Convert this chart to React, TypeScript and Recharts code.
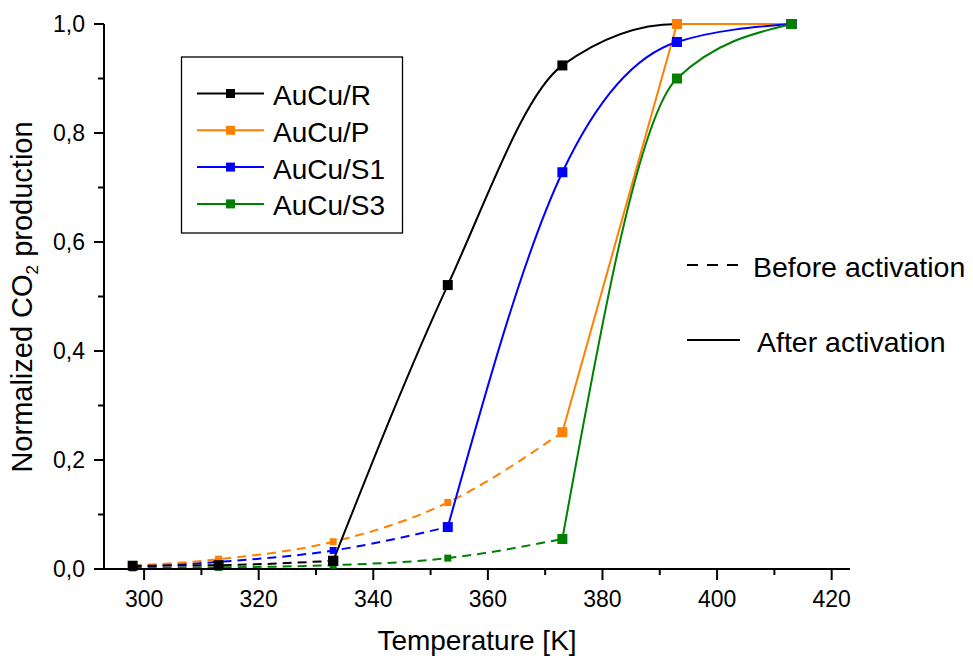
import { Line, LineChart, XAxis, YAxis } from "recharts";

// temperatures [K] where samples were taken
const temps = [298, 313, 333, 353, 373, 393, 413];

// normalized CO2 production, dashed = before activation, solid = after
const rBefore = [0.006, 0.007, 0.015, null, null, null, null];
const rAfter = [null, null, 0.015, 0.521, 0.924, 1.0, 1.0];
const pBefore = [0.006, 0.018, 0.05, 0.122, 0.251, null, null];
const pAfter = [null, null, null, null, 0.251, 1.0, 1.0];
const s1Before = [0.004, 0.013, 0.034, 0.077, null, null, null];
const s1After = [null, null, null, 0.077, 0.728, 0.967, 1.0];
const s3Before = [0.002, 0.003, 0.007, 0.02, 0.055, null, null];
const s3After = [null, null, null, null, 0.055, 0.9, 1.0];

const xTicks = [300, 310, 320, 330, 340, 350, 360, 370, 380, 390, 400, 410, 420];
const yTicks = [0, 0.1, 0.2, 0.3, 0.4, 0.5, 0.6, 0.7, 0.8, 0.9, 1.0];

const series = [
  { key: "R", name: "AuCu/R", color: "#000000", before: rBefore, after: rAfter, bSize: 10, curve: "monotone" },
  { key: "P", name: "AuCu/P", color: "#ff8000", before: pBefore, after: pAfter, bSize: 7, curve: "linear" },
  { key: "S1", name: "AuCu/S1", color: "#0000ff", before: s1Before, after: s1After, bSize: 7, curve: "monotone" },
  { key: "S3", name: "AuCu/S3", color: "#008000", before: s3Before, after: s3After, bSize: 7, curve: "monotone" },
];

const data = temps.map((T, i) => {
  const row: Record<string, number | null> = { T };
  series.forEach((s) => {
    row[s.key + "_b"] = s.before[i];
    row[s.key + "_a"] = s.after[i];
  });
  return row;
});

const FONT = "'Liberation Sans', Arial, sans-serif";

const squareDot = (color: string, size: number, id: string) => (props: any) => {
  const { cx, cy, index, value } = props;
  if (cx == null || cy == null || value == null) return <g key={id + index} />;
  return (
    <rect
      key={id + index}
      x={cx - size / 2}
      y={cy - size / 2}
      width={size}
      height={size}
      fill={color}
    />
  );
};

function XTick(props: any) {
  const { x, y, payload } = props;
  const v = payload.value;
  const major = v % 20 === 0;
  return (
    <g>
      <line x1={x} x2={x} y1={y} y2={y + (major ? 11 : 6)} stroke="#000" strokeWidth={2} />
      {major && (
        <text x={x} y={y + 38} textAnchor="middle" fontSize={23} fontFamily={FONT} fill="#000">
          {v}
        </text>
      )}
    </g>
  );
}

function YTick(props: any) {
  const { x, y, payload } = props;
  const v = payload.value;
  const major = Math.round(v * 10) % 2 === 0;
  return (
    <g>
      <line x1={x} x2={x - (major ? 10 : 6)} y1={y} y2={y} stroke="#000" strokeWidth={2} />
      {major && (
        <text x={x - 19} y={y + 8} textAnchor="end" fontSize={23} fontFamily={FONT} fill="#000">
          {v.toFixed(1).replace(".", ",")}
        </text>
      )}
    </g>
  );
}

function YTitle() {
  return (
    <text
      x={32}
      y={297}
      transform="rotate(-90 32 297)"
      textAnchor="middle"
      fontSize={29}
      fontFamily={FONT}
      fill="#000"
    >
      Normalized CO
      <tspan dy={6} fontSize={17}>2</tspan>
      <tspan dy={-6}> production</tspan>
    </text>
  );
}

// black dashed marks sit on top of the others at low temperature
const beforeOrder = [...series].reverse();

export default function App() {
  return (
    <div style={{ position: "absolute", left: 0, top: 0, width: 973, height: 659, background: "#fff" }}>
      <LineChart
        width={973}
        height={659}
        data={data}
        margin={{ top: 24, right: 123, left: 0, bottom: 0 }}
      >
        <XAxis
          dataKey="T"
          type="number"
          domain={[293, 423.2]}
          ticks={xTicks}
          interval={0}
          height={90}
          tickSize={0}
          tickMargin={0}
          tickLine={false}
          tick={<XTick />}
          axisLine={{ stroke: "#000", strokeWidth: 2 }}
          label={{
            value: "Temperature [K]",
            position: "insideBottom",
            offset: 9,
            fontSize: 28,
            fontFamily: FONT,
            fill: "#000",
          }}
        />
        <YAxis
          type="number"
          domain={[0, 1]}
          ticks={yTicks}
          interval={0}
          width={104}
          tickSize={0}
          tickMargin={0}
          tickLine={false}
          tick={<YTick />}
          axisLine={{ stroke: "#000", strokeWidth: 2 }}
          label={{ content: () => <YTitle /> }}
        />
        {beforeOrder.map((s) => (
          <Line
            key={s.key + "_b"}
            dataKey={s.key + "_b"}
            type="monotone"
            stroke={s.color}
            strokeWidth={2}
            strokeDasharray="9 6"
            dot={squareDot(s.color, s.bSize, s.key + "b")}
            activeDot={false}
            isAnimationActive={false}
          />
        ))}
        {series.map((s) => (
          <Line
            key={s.key + "_a"}
            dataKey={s.key + "_a"}
            type={s.curve as any}
            stroke={s.color}
            strokeWidth={2}
            dot={squareDot(s.color, 10, s.key + "a")}
            activeDot={false}
            isAnimationActive={false}
          />
        ))}
      </LineChart>
      <svg
        width={973}
        height={659}
        style={{ position: "absolute", left: 0, top: 0, pointerEvents: "none" }}
      >
        <rect x={181.5} y={57} width={221} height={176} fill="#fff" stroke="#000" strokeWidth={1.3} />
        {series.map((s, i) => {
          const ly = 93.5 + i * 36.8;
          return (
            <g key={s.key}>
              <line x1={197} x2={264} y1={ly} y2={ly} stroke={s.color} strokeWidth={2} />
              <rect x={226} y={ly - 4.5} width={9} height={9} fill={s.color} />
              <text x={273} y={ly + 11.5} fontSize={28} fontFamily={FONT} fill="#000">
                {s.name}
              </text>
            </g>
          );
        })}
        <line x1={687} x2={739} y1={265} y2={265} stroke="#000" strokeWidth={2} strokeDasharray="11 9" />
        <text x={753} y={277} fontSize={28.5} fontFamily={FONT} fill="#000">
          Before activation
        </text>
        <line x1={687} x2={740} y1={340} y2={340} stroke="#000" strokeWidth={2} />
        <text x={757} y={352} fontSize={28.5} fontFamily={FONT} fill="#000">
          After activation
        </text>
      </svg>
    </div>
  );
}
